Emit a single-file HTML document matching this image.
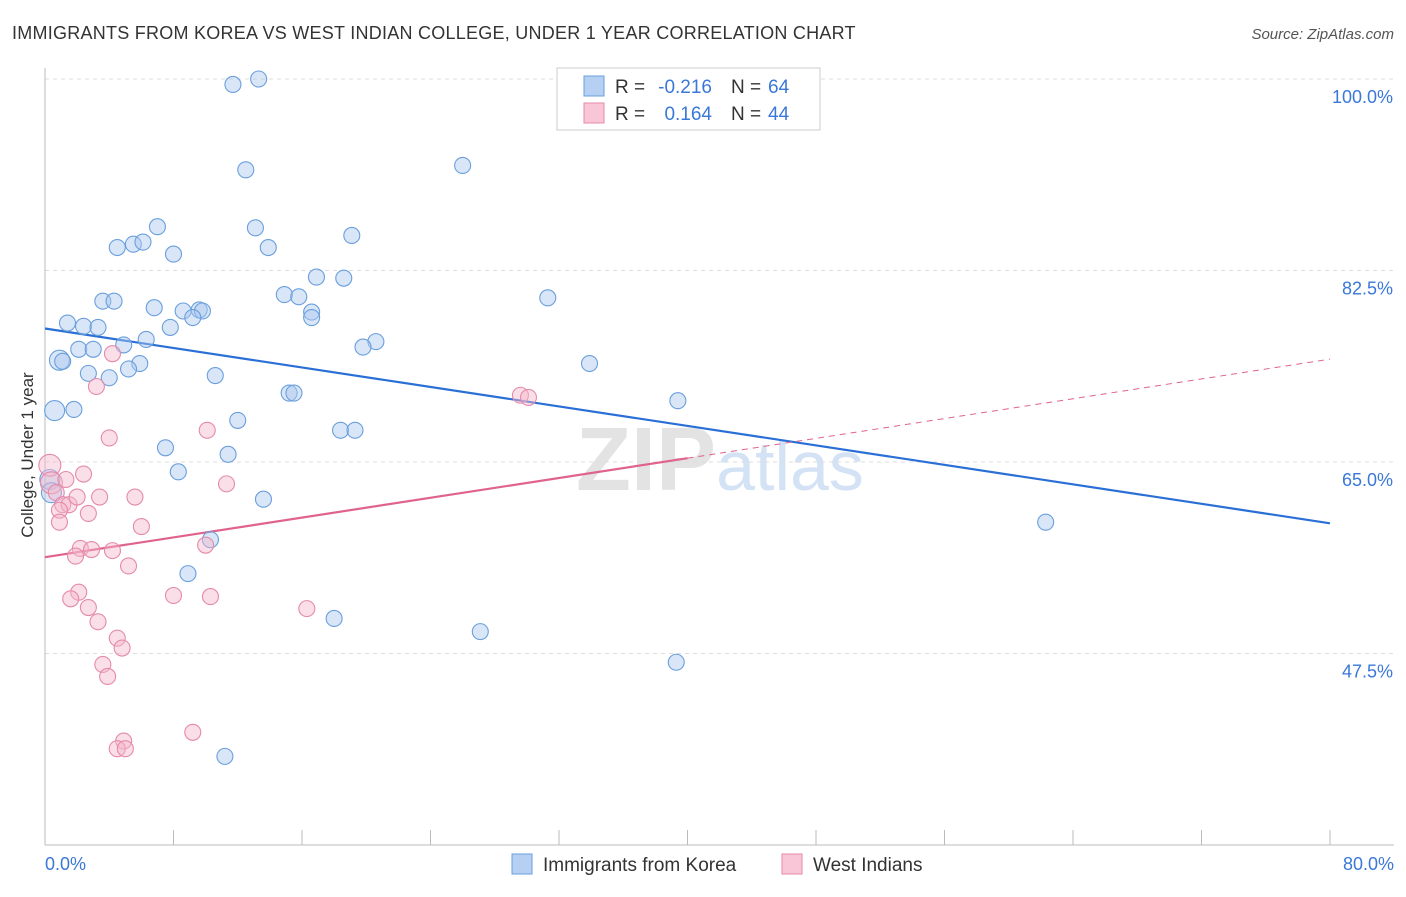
<!DOCTYPE html>
<html><head><meta charset="utf-8"><style>
body{margin:0;background:#fff;font-family:"Liberation Sans",sans-serif;}
svg text{font-family:"Liberation Sans",sans-serif;}
</style></head><body>
<svg width="1406" height="892" id="chart">
<text x="12" y="39" font-size="18" letter-spacing="0.25" fill="#333">IMMIGRANTS FROM KOREA VS WEST INDIAN COLLEGE, UNDER 1 YEAR CORRELATION CHART</text>
<text x="1394" y="39" font-size="15" fill="#555" text-anchor="end" font-style="italic">Source: ZipAtlas.com</text>
<text x="33" y="455" font-size="17" fill="#333" text-anchor="middle" transform="rotate(-90 33 455)">College, Under 1 year</text>
<text x="720" y="490" font-size="90" fill="#e3e3e3" text-anchor="middle" font-weight="bold">ZIP<tspan fill="#d3e2f5" font-weight="normal" font-size="70">atlas</tspan></text>
<g id="grid"></g><g id="ticks"></g><g id="lines"></g><g id="pts"></g>
<g>
<rect x="557" y="68" width="263" height="62" fill="#fff" stroke="#ccc"/>
<rect x="584" y="76" width="20" height="20" fill="#b5d0f2" stroke="#6a9fdc"/>
<rect x="584" y="103" width="20" height="20" fill="#f8c6d6" stroke="#e58aaa"/>
<text x="615" y="93" font-size="19" fill="#333">R =</text>
<text x="712" y="93" font-size="19" fill="#3a78d8" text-anchor="end">-0.216</text>
<text x="731" y="93" font-size="19" fill="#333">N =</text>
<text x="768" y="93" font-size="19" fill="#3a78d8">64</text>
<text x="615" y="120" font-size="19" fill="#333">R =</text>
<text x="712" y="120" font-size="19" fill="#3a78d8" text-anchor="end">0.164</text>
<text x="731" y="120" font-size="19" fill="#333">N =</text>
<text x="768" y="120" font-size="19" fill="#3a78d8">44</text>
</g>
<g>
<rect x="512" y="854" width="20" height="20" fill="#b5d0f2" stroke="#6a9fdc"/>
<text x="543" y="871" font-size="19" fill="#333">Immigrants from Korea</text>
<rect x="782" y="854" width="20" height="20" fill="#f8c6d6" stroke="#e58aaa"/>
<text x="813" y="871" font-size="19" fill="#333">West Indians</text>
</g>
<text x="45" y="870" font-size="18" fill="#3a78d8">0.0%</text>
<text x="1394" y="870" font-size="18" fill="#3a78d8" text-anchor="end">80.0%</text>
</svg>
<script>
const yTicks=[100,82.5,65,47.5];
const xTickVals=[0,8,16,24,32,40,48,56,64,72,80];
const blueX=[11.7,13.3,12.5,26.0,7.0,13.1,19.1,4.5,5.5,6.1,8.0,13.9,16.9,18.6,3.6,4.3,6.8,8.6,9.6,9.8,9.2,14.9,15.8,16.6,16.6,31.3,1.4,2.4,3.3,7.8,6.3,4.9,2.1,3.0,0.9,1.1,20.6,19.8,5.9,5.2,2.7,4.0,10.6,33.9,15.2,15.5,0.6,1.8,12.0,39.4,18.4,19.3,7.5,11.4,8.3,13.6,0.3,0.4,62.3,10.3,8.9,18.0,27.1,39.3,11.2];
const blueY=[99.5,100,91.7,92.1,86.5,86.4,85.7,84.6,84.9,85.1,84.0,84.6,81.9,81.8,79.7,79.7,79.1,78.8,78.9,78.8,78.2,80.3,80.1,78.7,78.2,80.0,77.7,77.4,77.3,77.3,76.2,75.7,75.3,75.3,74.3,74.2,76.0,75.5,74.0,73.5,73.1,72.7,72.9,74.0,71.3,71.3,69.7,69.8,68.8,70.6,67.9,67.9,66.3,65.7,64.1,61.6,63.4,62.2,59.5,57.9,54.8,50.7,49.5,46.7,38.1];
const pinkX=[0.3,0.4,0.7,1.3,1.1,1.5,2.4,2.0,0.9,0.9,2.7,3.4,5.6,4.2,4.0,3.2,10.1,11.3,6.0,2.2,1.9,2.9,4.2,5.2,10.0,2.1,1.6,2.7,3.3,8.0,10.3,16.3,4.5,4.8,3.6,3.9,4.9,4.5,5.0,9.2,29.6,30.1];
const pinkY=[64.7,63.1,62.2,63.4,61.1,61.1,63.9,61.8,60.6,59.5,60.3,61.8,61.8,74.9,67.2,71.9,67.9,63.0,59.1,57.1,56.4,57.0,56.9,55.5,57.4,53.1,52.5,51.7,50.4,52.8,52.7,51.6,48.9,48.0,46.5,45.4,39.5,38.8,38.8,40.3,71.1,70.9];
const blueTrend=[77.2,59.4];
const pinkTrend=[56.3,74.4];
const NS='http://www.w3.org/2000/svg';
const X=v=>45+v/80*1285, Y=v=>79+(100-v)/17.5*191.5;
function mk(t,a,p){const e=document.createElementNS(NS,t);for(const k in a)e.setAttribute(k,a[k]);document.getElementById(p).appendChild(e);return e;}
yTicks.forEach(v=>{
 const g=mk('line',{x1:45,x2:1394,y1:Y(v),y2:Y(v),stroke:'#ddd','stroke-dasharray':'4,4'},'grid');
 
 
 const t=mk('text',{x:1393,y:Y(v)+24,'font-size':18,fill:'#3a78d8','text-anchor':'end'},'grid');t.textContent=v.toFixed(1)+'%';
 
 
});
mk('line',{x1:45,x2:45,y1:68,y2:845,stroke:'#bbb'},'ticks');
mk('line',{x1:45,x2:1394,y1:845,y2:845,stroke:'#bbb'},'ticks');
xTickVals.forEach(v=>{const l=mk('line',{x1:X(v),x2:X(v),y1:830,y2:845,stroke:'#bbb'},'ticks');
 
 });
let l=mk('line',{x1:X(0),y1:Y(blueTrend[0]),x2:X(80),y2:Y(blueTrend[1]),stroke:'#2a6fd6','stroke-width':2.2},'lines');


const pm=pinkTrend[0]+(pinkTrend[1]-pinkTrend[0])*0.5;
l=mk('line',{x1:X(0),y1:Y(pinkTrend[0]),x2:X(40),y2:Y(pm),stroke:'#e0628e','stroke-width':2.2},'lines');


l=mk('line',{x1:X(40),y1:Y(pm),x2:X(80),y2:Y(pinkTrend[1]),stroke:'#e0628e','stroke-width':1,'stroke-dasharray':'6,5'},'lines');


blueX.forEach((v,i)=>{const c=mk('circle',{cx:X(v),cy:Y(blueY[i]),r:v<1?10:8,fill:'rgba(170,200,240,0.45)',stroke:'#6a9fdc','stroke-width':1.1},'pts');
 
 });
pinkX.forEach((v,i)=>{const c=mk('circle',{cx:X(v),cy:Y(pinkY[i]),r:v<0.5?11:8,fill:'rgba(245,185,205,0.45)',stroke:'#e58aaa','stroke-width':1.1},'pts');
 
 });
</script>
</body></html>
